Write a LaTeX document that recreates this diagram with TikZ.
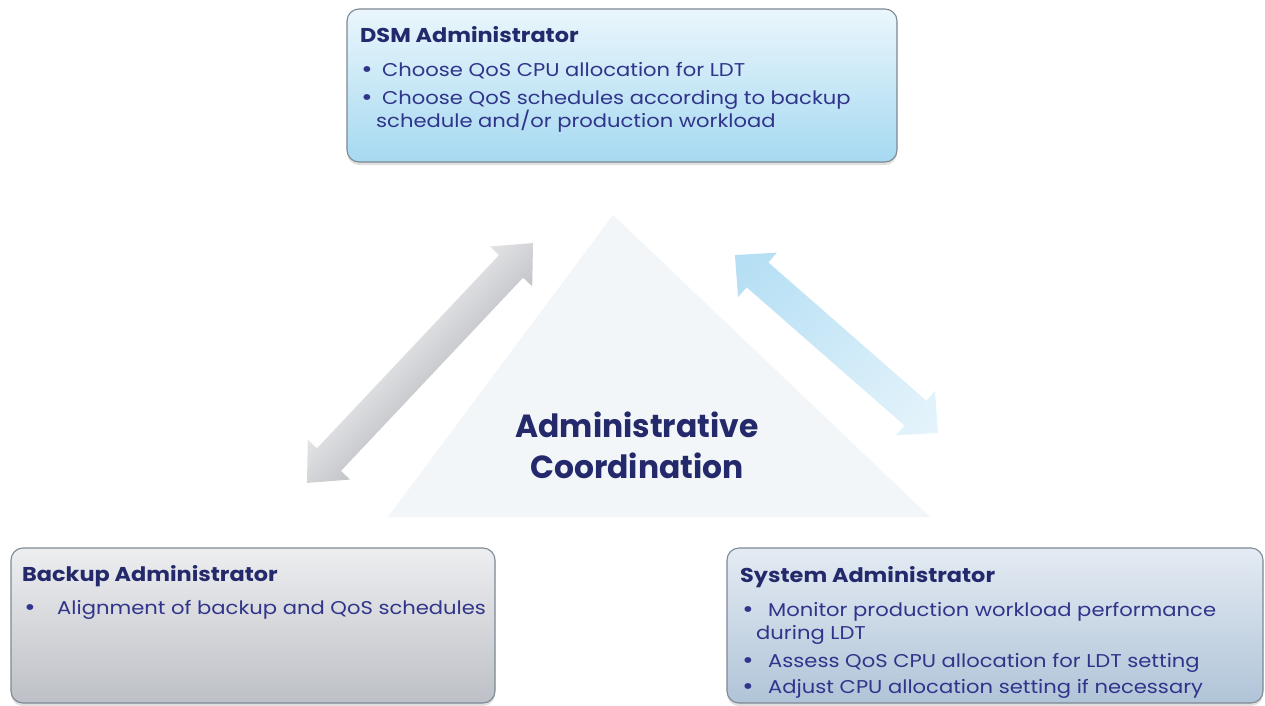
\documentclass[tikz,border=0pt]{standalone}
\usepackage{fontspec}
\setmainfont{Poppins}
\newfontfamily\bodyfont{Poppins}[FakeStretch=1.14]
\newfontfamily\ttlfont{Poppins}[FakeStretch=1.12]
\newfontfamily\ctrfont{Poppins}[FakeStretch=0.98]
\usetikzlibrary{shadows}
\definecolor{titlec}{HTML}{24296B}
\definecolor{bodyc}{HTML}{30348A}
\definecolor{boxline}{HTML}{7D8893}
\definecolor{dsmtop}{HTML}{EAF6FC}
\definecolor{dsmbot}{HTML}{A6D9F1}
\definecolor{bkptop}{HTML}{EDEEF0}
\definecolor{bkpbot}{HTML}{BDC0C6}
\definecolor{systop}{HTML}{E4EBF3}
\definecolor{sysbot}{HTML}{B0C4D8}
\definecolor{trifill}{HTML}{F2F6F8}
\definecolor{gA}{HTML}{E3E4E6}
\definecolor{gB}{HTML}{C2C4C8}
\definecolor{bA}{HTML}{B3DEF4}
\definecolor{bB}{HTML}{E6F4FB}
\begin{document}
\begin{tikzpicture}[x=1pt,y=1pt,
  box/.style={draw=boxline, line width=1.1pt, rounded corners=12pt, inner sep=0pt,
    drop shadow={opacity=0.25, shadow xshift=0pt, shadow yshift=-3pt}},
  ttl/.style={anchor=base west, inner sep=0pt, text=titlec, font=\ttlfont\fontsize{20}{24}\selectfont\bfseries},
  bod/.style={anchor=base west, inner sep=0pt, text=bodyc, font=\bodyfont\fontsize{18.5}{22}\selectfont},
  bul/.style={anchor=base, inner sep=0pt, text=bodyc, font=\bodyfont\fontsize{24}{22}\selectfont},
  ctr/.style={anchor=base, inner sep=0pt, text=titlec, font=\ctrfont\fontsize{32}{38}\selectfont\bfseries}]
\useasboundingbox (0,0) rectangle (1265,-705);
\fill[white] (0,0) rectangle (1265,-705);

% central triangle
\fill[trifill] (613,-215) -- (930,-517) -- (388,-517) -- cycle;
\node[ctr] (c1) at (637,-437) {Administrative};
\node[ctr] (c2) at (637,-478) {Coordination};

% left gray double arrow
\begin{scope}[transform canvas={shift={(420,-363)}, rotate=46.7}]
\shade[top color=gA, bottom color=gB] (-164.8,0) -- (-132.8,29) -- (-132.8,16.5) -- (132.8,16.5) -- (132.8,29) -- (164.8,0) -- (132.8,-29) -- (132.8,-16.5) -- (-132.8,-16.5) -- (-132.8,-29) -- cycle;
\end{scope}
% right blue double arrow
\begin{scope}[transform canvas={shift={(836.5,-344)}, rotate=-41.2}]
\shade[left color=bA, right color=bB] (-135,0) -- (-105,29.5) -- (-105,16.5) -- (105,16.5) -- (105,29.5) -- (135,0) -- (105,-29.5) -- (105,-16.5) -- (-105,-16.5) -- (-105,-29.5) -- cycle;
\end{scope}

% boxes
\node[box, top color=dsmtop, bottom color=dsmbot, minimum width=550pt, minimum height=153pt] (dsm) at (622,-85.5) {};
\node[box, top color=bkptop, bottom color=bkpbot, minimum width=484pt, minimum height=155pt] (bkp) at (253,-625.5) {};
\node[box, top color=systop, bottom color=sysbot, minimum width=536pt, minimum height=155pt] (sys) at (995,-625.5) {};

% DSM text
\node[ttl] (dt) at (360,-42) {DSM Administrator};
\node[bul] (db1) at (367,-77) {•};
\node[bod] (d1) at (382,-76) {Choose QoS CPU allocation for LDT};
\node[bul] (db2) at (367,-105) {•};
\node[bod] (d2) at (382,-104) {Choose QoS schedules according to backup};
\node[bod] (d3) at (376,-127) {schedule and/or production workload};

% Backup text
\node[ttl] (bt) at (22,-581) {Backup Administrator};
\node[bul] (bb1) at (30,-615) {•};
\node[bod] (b1) at (57,-614) {Alignment of backup and QoS schedules};

% System text
\node[ttl] (st) at (740,-582) {System Administrator};
\node[bul] (sb1) at (748,-617) {•};
\node[bod] (s1) at (768,-616) {Monitor production workload performance};
\node[bod] (s2) at (756,-639) {during LDT};
\node[bul] (sb2) at (748,-668) {•};
\node[bod] (s3) at (768,-667) {Assess QoS CPU allocation for LDT setting};
\node[bul] (sb3) at (748,-694) {•};
\node[bod] (s4) at (768,-693) {Adjust CPU allocation setting if necessary};
\end{tikzpicture}
\end{document}
